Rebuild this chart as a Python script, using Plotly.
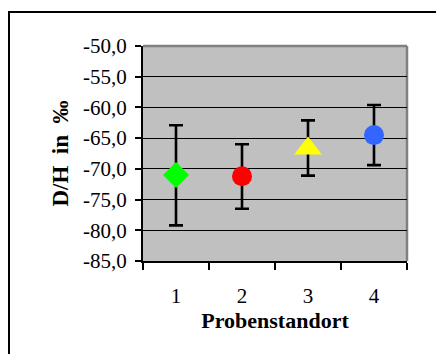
import plotly.graph_objects as go

sites = [1, 2, 3, 4]
site_labels = ["1", "2", "3", "4"]
dh_mean = [-71.0, -71.2, -66.7, -64.5]
err_plus = [8.1, 5.2, 4.6, 4.9]
err_minus = [8.2, 5.3, 4.4, 4.9]
marker_colors = ["#00FF00", "#FF0000", "#FFFF00", "#3366FF"]
marker_symbols = ["diamond", "circle", "triangle-up", "circle"]
marker_sizes = [20, 20, 24, 20]
y_ticks = [-50, -55, -60, -65, -70, -75, -80, -85]
y_tick_labels = ["-50,0", "-55,0", "-60,0", "-65,0", "-70,0", "-75,0", "-80,0", "-85,0"]

FONT = "Liberation Serif"

fig = go.Figure()
fig.add_trace(go.Scatter(
    x=sites, y=dh_mean, mode="markers",
    marker=dict(color=marker_colors, symbol=marker_symbols, size=marker_sizes,
                opacity=1, line=dict(width=0)),
    error_y=dict(type="data", symmetric=False, array=err_plus, arrayminus=err_minus,
                 color="black", thickness=2.6, width=7),
    showlegend=False,
))

L, R, T, B = 143, 29, 46, 93
W, H = 436, 354
pw = W - L - R
ph = H - T - B

fig.update_layout(
    width=W, height=H,
    margin=dict(l=L, r=R, t=T, b=B, pad=0),
    paper_bgcolor="white",
    plot_bgcolor="#C0C0C0",
    font=dict(family=FONT, color="black", size=20),
    xaxis=dict(
        range=[0.5, 4.5], tickvals=sites, ticktext=site_labels,
        ticks="", showgrid=False, zeroline=False, automargin=False,
        showline=True, linecolor="black", linewidth=2,
        minor=dict(ticks="outside", tick0=0.5, dtick=1, ticklen=7, tickwidth=1.5,
                   tickcolor="black", showgrid=False),
        tickfont=dict(size=21, family=FONT),
        ticklabelstandoff=15,
        title=dict(text="<b>Probenstandort</b>", font=dict(size=22, family=FONT), standoff=5),
    ),
    yaxis=dict(
        range=[-85, -50], tickvals=y_ticks, ticktext=y_tick_labels,
        ticks="outside", ticklen=6, tickwidth=1.5, tickcolor="black",
        showgrid=True, gridcolor="black", gridwidth=1, zeroline=False, automargin=False,
        showline=True, linecolor="black", linewidth=2,
        tickfont=dict(size=21, family=FONT),
        ticklabelstandoff=4,
        title=dict(text="<b>D/H  in  ‰</b>", font=dict(size=23, family=FONT), standoff=8),
    ),
    shapes=[
        dict(type="line", xref="paper", yref="paper",
             x0=1.0, x1=1.0, y0=0, y1=1.0,
             line=dict(color="#808080", width=2.5), layer="between"),
        dict(type="line", xref="paper", yref="paper",
             x0=0.0, x1=1.0, y0=1.0, y1=1.0,
             line=dict(color="#808080", width=2.5), layer="between"),
        dict(type="rect", xref="paper", yref="paper",
             x0=(9 - L) / pw, x1=(445 - L) / pw,
             y0=(H - B - 362) / ph, y1=(H - B - 12) / ph,
             line=dict(color="black", width=2), layer="above"),
    ],
)

fig.write_html("out.html", config={"displayModeBar": False},
               post_script="document.body.style.margin='0';document.body.style.overflow='hidden';")
